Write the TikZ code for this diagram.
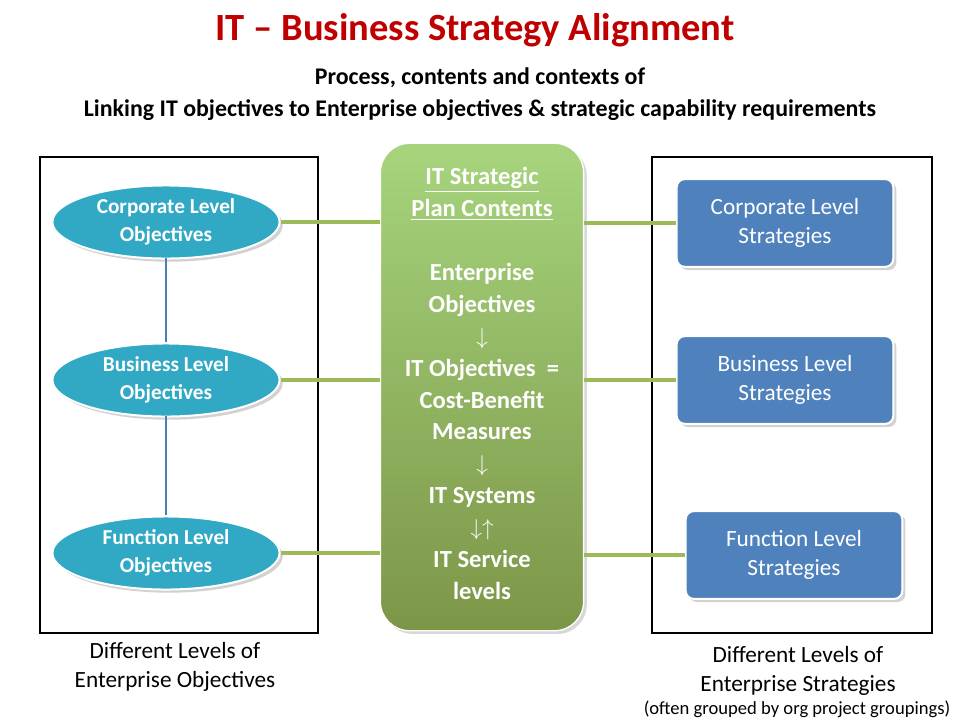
\documentclass[tikz,border=0pt]{standalone}
\usepackage{fontspec}
\setmainfont{Carlito}
\usetikzlibrary{shapes.geometric,shadows}
\definecolor{ttl}{HTML}{C00000}
\definecolor{teal}{HTML}{31A9C4}
\definecolor{bl}{HTML}{4F81BD}
\definecolor{gr}{HTML}{9BBB59}
\definecolor{blline}{HTML}{4A7EBB}
\begin{document}
\begin{tikzpicture}[x=0.0264583cm,y=-0.0264583cm,
  ell/.style={ellipse,fill=teal,draw=white,line width=1.5pt,minimum width=171pt,minimum height=55pt,inner sep=1pt,text=white,font=\fontsize{16}{21}\selectfont\bfseries,align=center,drop shadow={opacity=0.35}},
  rbox/.style={rounded corners=6pt,fill=bl,draw=white,line width=1.5pt,minimum width=163pt,minimum height=66pt,text=white,font=\fontsize{17.5}{22}\selectfont,align=center,drop shadow={opacity=0.35}},
  frame/.style={draw=black,line width=1.5pt},
  link/.style={draw=gr,line width=2.5pt},
  captext/.style={font=\fontsize{17.5}{22}\selectfont,align=center}]
\useasboundingbox (0,0) rectangle (960,720);
\fill[white] (0,0) rectangle (960,720);
\node (title) at (475,30) {\fontsize{29}{32}\selectfont\bfseries\color{ttl}IT – Business Strategy Alignment};
\node (sub) at (480,94) [align=center,font=\fontsize{18}{24}\selectfont\bfseries] {Process, contents and contexts of\\Linking IT objectives to Enterprise objectives \& strategic capability requirements};
\draw[frame] (40,157) rectangle (318,633);
\draw[frame] (652,157) rectangle (932,633);
\node[ell] (e1) at (166,222) {Corporate Level\\Objectives};
\node[ell] (e2) at (166,380) {Business Level\\Objectives};
\node[ell] (e3) at (166,553) {Function Level\\Objectives};
\draw[blline,line width=1.5pt] (e1.south) ++(0,-2) -- (e2.north);
\draw[blline,line width=1.5pt] (e2.south) ++(0,-2) -- (e3.north);
\node[rounded corners=22pt,minimum width=153pt,minimum height=367pt,top color=gr!70!white!90!green,bottom color=gr!80!black,draw=white,line width=1pt,drop shadow={opacity=0.3}] (c) at (482,387) {};
\node[text=white,align=center,font=\fontsize{18.5}{24}\selectfont\bfseries,anchor=north] (ct) at (482,163)
{\underline{IT Strategic}\\\underline{Plan Contents}\\[24pt]Enterprise\\Objectives\\$\downarrow$\\IT Objectives \ =\\Cost-Benefit\\Measures\\$\downarrow$\\IT Systems\\$\downarrow\uparrow$\\IT Service\\levels};
\node[rbox] (r1) at (785,223) {Corporate Level\\Strategies};
\node[rbox] (r2) at (785,380) {Business Level\\Strategies};
\node[rbox] (r3) at (794,555) {Function Level\\Strategies};
\draw[link] (e1.east) -- (c.west |- e1.east);
\draw[link] (e2.east) -- (c.west |- e2.east);
\draw[link] (e3.east) -- (c.west |- e3.east);
\draw[link] (c.east |- r1.west) -- (r1.west);
\draw[link] (c.east |- r2.west) -- (r2.west);
\draw[link] (c.east |- r3.west) -- (r3.west);
\node[captext] (lc) at (175,667) {Different Levels of\\Enterprise Objectives};
\node[captext] (rc) at (798,671) {Different Levels of\\Enterprise Strategies};
\node[font=\fontsize{14}{16}\selectfont] (rc2) at (797,709) {(often grouped by org project groupings)};
\end{tikzpicture}
\end{document}
